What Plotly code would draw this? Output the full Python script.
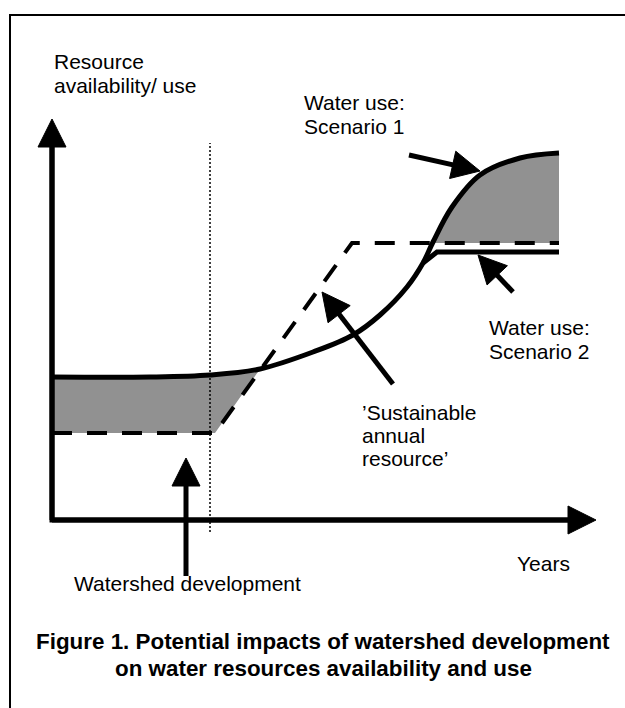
import math
import plotly.graph_objects as go

# ---- schematic data (years on x, resource availability/use on y) ----
years_s1 = [0, 19.6, 31.6, 41.6, 52.2, 60.2, 65.6, 71.0, 74.2, 76.2, 80.0, 85.6, 93.6, 101.4]
use_s1 = [28.6, 28.6, 29.0, 30.2, 33.6, 37.0, 41.0, 46.6, 51.4, 55.6, 62.6, 69.0, 72.4, 73.4]

years_s2 = [74.2, 77.0, 101.4]
use_s2 = [51.4, 53.6, 53.6]

years_res = [0, 32.6, 60.0, 101.4]
resource = [17.4, 17.4, 55.4, 55.4]

development_year = 31.6
dev_line_y = [-2.4, 75.4]

# shaded area boundaries (subsets of the series above)
gap1_top_x, gap1_top_y = years_s1[:4], use_s1[:4]
gap1_bot_x, gap1_bot_y = [0, 32.6, 41.6], [17.4, 17.4, 30.2]
gap2_top_x, gap2_top_y = years_s1[9:], use_s1[9:]
gap2_bot_x, gap2_bot_y = [76.2, 101.4], [55.4, 55.4]

# axes extents
x_axis_end = 108.8
y_axis_end = 80.2

# arrows: (tail, tip)
arrows = {
    "dev": ((26.8, -11.2), (26.8, 12.4)),
    "sust": ((68.2, 27.2), (54.0, 45.6)),
    "s1": ((71.4, 73.0), (85.6, 69.8)),
    "s2": ((92.2, 45.6), (85.2, 53.0)),
}

labels = [
    ("Resource", 0, 91.8, "left"),
    ("availability/ use", 0, 87.0, "left"),
    ("Water use:", 50.0, 83.6, "left"),
    ("Scenario 1", 50.0, 78.8, "left"),
    ("Water use:", 87.0, 38.6, "left"),
    ("Scenario 2", 87.0, 33.8, "left"),
    ("\u2019Sustainable", 61.6, 21.6, "left"),
    ("annual", 61.6, 17.0, "left"),
    ("resource\u2019", 61.6, 12.4, "left"),
    ("Watershed development", 4.0, -12.6, "left"),
    ("Years", 92.6, -8.6, "left"),
]
caption = [
    ("Figure 1. Potential impacts of watershed development", 54.2, -24.2),
    ("on water resources availability and use", 54.2, -29.6),
]

FONT = "Liberation Sans, Arial, sans-serif"
GRAY = "rgb(145,145,145)"

fig = go.Figure()

# shaded gaps
fig.add_trace(go.Scatter(x=gap1_bot_x, y=gap1_bot_y, mode="lines",
                         line=dict(width=0), showlegend=False, hoverinfo="skip"))
fig.add_trace(go.Scatter(x=gap1_top_x, y=gap1_top_y, mode="lines", line_shape="spline",
                         line=dict(width=0), fill="tonexty", fillcolor=GRAY,
                         showlegend=False, hoverinfo="skip"))
fig.add_trace(go.Scatter(x=gap2_bot_x, y=gap2_bot_y, mode="lines",
                         line=dict(width=0), showlegend=False, hoverinfo="skip"))
fig.add_trace(go.Scatter(x=gap2_top_x, y=gap2_top_y, mode="lines", line_shape="spline",
                         line=dict(width=0), fill="tonexty", fillcolor=GRAY,
                         showlegend=False, hoverinfo="skip"))

# development dotted line
fig.add_trace(go.Scatter(x=[development_year, development_year], y=dev_line_y, mode="lines",
                         line=dict(color="black", width=1.5, dash="2px,2px"),
                         showlegend=False, hoverinfo="skip"))

# sustainable resource (dashed)
fig.add_trace(go.Scatter(x=years_res, y=resource, mode="lines",
                         line=dict(color="black", width=4, dash="20px,15px"),
                         showlegend=False, hoverinfo="skip"))

# water use scenario 2
fig.add_trace(go.Scatter(x=years_s2, y=use_s2, mode="lines",
                         line=dict(color="black", width=5),
                         showlegend=False, hoverinfo="skip"))
# water use scenario 1
fig.add_trace(go.Scatter(x=years_s1, y=use_s1, mode="lines", line_shape="spline",
                         line=dict(color="black", width=5),
                         showlegend=False, hoverinfo="skip"))


def add_arrow(tail, tip, length=5.6, half=2.8, width=5):
    dx, dy = tip[0] - tail[0], tip[1] - tail[1]
    d = math.hypot(dx, dy)
    ux, uy = dx / d, dy / d
    bx, by = tip[0] - length * ux, tip[1] - length * uy
    nx, ny = -uy, ux
    fig.add_trace(go.Scatter(x=[tail[0], bx + 0.3 * ux], y=[tail[1], by + 0.3 * uy], mode="lines",
                             line=dict(color="black", width=width),
                             showlegend=False, hoverinfo="skip"))
    fig.add_trace(go.Scatter(x=[tip[0], bx + half * nx, bx - half * nx, tip[0]],
                             y=[tip[1], by + half * ny, by - half * ny, tip[1]],
                             mode="lines", fill="toself", fillcolor="black",
                             line=dict(color="black", width=1),
                             showlegend=False, hoverinfo="skip"))


# axes
fig.add_trace(go.Scatter(x=[0, 0, x_axis_end - 5.6], y=[y_axis_end - 5.6, 0, 0], mode="lines",
                         line=dict(color="black", width=5),
                         showlegend=False, hoverinfo="skip"))
add_arrow((0, 0), (0, y_axis_end))
add_arrow((0, 0), (x_axis_end, 0))

for key, (tail, tip) in arrows.items():
    add_arrow(tail, tip)

for text, x, y, anchor in labels:
    fig.add_annotation(x=x, y=y, text=text, showarrow=False, xanchor=anchor, yanchor="middle",
                       font=dict(family=FONT, size=21, color="black"))
for text, x, y in caption:
    fig.add_annotation(x=x, y=y, text="<b>" + text + "</b>", showarrow=False,
                       xanchor="center", yanchor="middle",
                       font=dict(family=FONT, size=22.4, color="black"))

W, H = 625, 708
fx = 10 / W
fy = 1 - 15 / H
fig.add_shape(type="path", xref="paper", yref="paper",
              path=f"M {fx},-0.1 L {fx},{fy} L 1.1,{fy}",
              line=dict(color="black", width=2))

fig.update_layout(
    width=W, height=H,
    margin=dict(l=0, r=0, t=0, b=0),
    paper_bgcolor="white", plot_bgcolor="white",
    xaxis=dict(range=[-10.4, 114.6], visible=False, fixedrange=True),
    yaxis=dict(range=[-37.6, 104.0], visible=False, fixedrange=True),
    showlegend=False,
    hovermode=False,
)

# remove the browser's default 8px body margin so the figure sits at the page corner
fig.write_html("out.html", config={"displayModeBar": False},
               post_script="document.body.style.margin='0px';")
